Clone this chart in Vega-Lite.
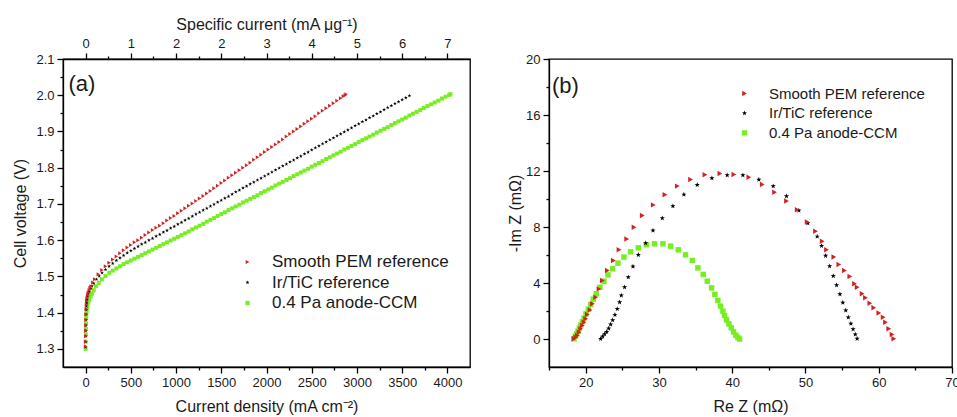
{
"$schema":"https://vega.github.io/schema/vega-lite/v6.json",
"background":"white",
"padding":{"left":12,"top":15,"right":0,"bottom":0},
"bounds":"flush",
"spacing":79,
"config":{
"font":"Liberation Sans",
"view":{"stroke":"black","strokeWidth":1.3},
"axis":{"domainColor":"black","domainWidth":1.3,"tickColor":"black","tickWidth":1.3,"labelColor":"#1a1a1a","titleColor":"#1a1a1a","labelFont":"Liberation Sans","titleFont":"Liberation Sans","labelFontSize":13,"titleFontSize":16,"titleFontWeight":"normal","grid":false,"labelFlush":false,"labelOverlap":false,"labelPadding":3},
"legend":{"labelLimit":400}
},
"datasets":{
"pol":[
{"s":"C","i":0,"v":1.300},{"s":"C","i":1,"v":1.32},{"s":"C","i":2,"v":1.34},{"s":"C","i":3,"v":1.355},{"s":"C","i":4.5,"v":1.37},{"s":"C","i":6,"v":1.385},{"s":"C","i":8,"v":1.397},{"s":"C","i":11,"v":1.405},{"s":"C","i":15,"v":1.412},{"s":"C","i":20,"v":1.418},{"s":"C","i":30,"v":1.427},{"s":"C","i":41,"v":1.436},{"s":"C","i":55,"v":1.444},{"s":"C","i":70,"v":1.452},{"s":"C","i":90,"v":1.462},{"s":"C","i":114,"v":1.473},{"s":"C","i":145,"v":1.482},{"s":"C","i":180,"v":1.492},{"s":"C","i":220,"v":1.501},{"s":"C","i":262,"v":1.510},{"s":"C","i":300,"v":1.516},{"s":"C","i":340,"v":1.522},{"s":"C","i":380,"v":1.528},{"s":"C","i":420,"v":1.534},{"s":"C","i":460,"v":1.539},{"s":"C","i":500,"v":1.544},{"s":"C","i":540,"v":1.549},{"s":"C","i":580,"v":1.554},{"s":"C","i":620,"v":1.559},{"s":"C","i":660,"v":1.564},{"s":"C","i":700,"v":1.569},{"s":"C","i":740,"v":1.574},{"s":"C","i":780,"v":1.579},{"s":"C","i":820,"v":1.584},{"s":"C","i":860,"v":1.589},{"s":"C","i":900,"v":1.594},{"s":"C","i":940,"v":1.599},{"s":"C","i":980,"v":1.604},{"s":"C","i":1020,"v":1.609},{"s":"C","i":1060,"v":1.614},{"s":"C","i":1100,"v":1.619},{"s":"C","i":1140,"v":1.624},{"s":"C","i":1180,"v":1.630},{"s":"C","i":1220,"v":1.635},{"s":"C","i":1260,"v":1.640},{"s":"C","i":1300,"v":1.645},{"s":"C","i":1340,"v":1.651},{"s":"C","i":1380,"v":1.656},{"s":"C","i":1420,"v":1.661},{"s":"C","i":1460,"v":1.667},{"s":"C","i":1500,"v":1.672},{"s":"C","i":1540,"v":1.677},{"s":"C","i":1580,"v":1.683},{"s":"C","i":1620,"v":1.688},{"s":"C","i":1660,"v":1.693},{"s":"C","i":1700,"v":1.698},{"s":"C","i":1740,"v":1.704},{"s":"C","i":1780,"v":1.709},{"s":"C","i":1820,"v":1.714},{"s":"C","i":1860,"v":1.719},{"s":"C","i":1900,"v":1.724},{"s":"C","i":1940,"v":1.730},{"s":"C","i":1980,"v":1.735},{"s":"C","i":2020,"v":1.740},{"s":"C","i":2060,"v":1.745},{"s":"C","i":2100,"v":1.751},{"s":"C","i":2140,"v":1.756},{"s":"C","i":2180,"v":1.761},{"s":"C","i":2220,"v":1.766},{"s":"C","i":2260,"v":1.771},{"s":"C","i":2300,"v":1.777},{"s":"C","i":2340,"v":1.782},{"s":"C","i":2380,"v":1.787},{"s":"C","i":2420,"v":1.792},{"s":"C","i":2460,"v":1.797},{"s":"C","i":2500,"v":1.803},{"s":"C","i":2540,"v":1.808},{"s":"C","i":2580,"v":1.813},{"s":"C","i":2620,"v":1.818},{"s":"C","i":2660,"v":1.824},{"s":"C","i":2700,"v":1.829},{"s":"C","i":2740,"v":1.834},{"s":"C","i":2780,"v":1.839},{"s":"C","i":2820,"v":1.844},{"s":"C","i":2860,"v":1.850},{"s":"C","i":2900,"v":1.855},{"s":"C","i":2940,"v":1.860},{"s":"C","i":2980,"v":1.865},{"s":"C","i":3020,"v":1.871},{"s":"C","i":3060,"v":1.876},{"s":"C","i":3100,"v":1.881},{"s":"C","i":3140,"v":1.886},{"s":"C","i":3180,"v":1.891},{"s":"C","i":3220,"v":1.897},{"s":"C","i":3260,"v":1.902},{"s":"C","i":3300,"v":1.907},{"s":"C","i":3340,"v":1.912},{"s":"C","i":3380,"v":1.918},{"s":"C","i":3420,"v":1.923},{"s":"C","i":3460,"v":1.928},{"s":"C","i":3500,"v":1.933},{"s":"C","i":3540,"v":1.938},{"s":"C","i":3580,"v":1.944},{"s":"C","i":3620,"v":1.949},{"s":"C","i":3660,"v":1.954},{"s":"C","i":3700,"v":1.959},{"s":"C","i":3740,"v":1.965},{"s":"C","i":3780,"v":1.970},{"s":"C","i":3820,"v":1.975},{"s":"C","i":3860,"v":1.980},{"s":"C","i":3900,"v":1.985},{"s":"C","i":3940,"v":1.991},{"s":"C","i":3980,"v":1.996},{"s":"C","i":4020,"v":2.001},{"s":"C","i":4034,"v":2.003},
{"s":"B","i":0,"v":1.305},{"s":"B","i":0.5,"v":1.32},{"s":"B","i":1,"v":1.335},{"s":"B","i":2,"v":1.35},{"s":"B","i":3,"v":1.365},{"s":"B","i":4,"v":1.38},{"s":"B","i":5.5,"v":1.395},{"s":"B","i":7,"v":1.408},{"s":"B","i":9,"v":1.418},{"s":"B","i":12,"v":1.427},{"s":"B","i":16,"v":1.436},{"s":"B","i":22,"v":1.445},{"s":"B","i":30,"v":1.452},{"s":"B","i":40,"v":1.458},{"s":"B","i":55,"v":1.466},{"s":"B","i":70,"v":1.473},{"s":"B","i":90,"v":1.481},{"s":"B","i":120,"v":1.492},{"s":"B","i":150,"v":1.501},{"s":"B","i":181,"v":1.510},{"s":"B","i":220,"v":1.519},{"s":"B","i":260,"v":1.528},{"s":"B","i":300,"v":1.536},{"s":"B","i":340,"v":1.544},{"s":"B","i":380,"v":1.551},{"s":"B","i":420,"v":1.558},{"s":"B","i":460,"v":1.565},{"s":"B","i":500,"v":1.571},{"s":"B","i":540,"v":1.577},{"s":"B","i":580,"v":1.583},{"s":"B","i":620,"v":1.589},{"s":"B","i":660,"v":1.594},{"s":"B","i":700,"v":1.600},{"s":"B","i":740,"v":1.605},{"s":"B","i":780,"v":1.611},{"s":"B","i":820,"v":1.616},{"s":"B","i":860,"v":1.622},{"s":"B","i":900,"v":1.627},{"s":"B","i":940,"v":1.633},{"s":"B","i":980,"v":1.638},{"s":"B","i":1020,"v":1.644},{"s":"B","i":1060,"v":1.649},{"s":"B","i":1100,"v":1.655},{"s":"B","i":1140,"v":1.660},{"s":"B","i":1180,"v":1.666},{"s":"B","i":1220,"v":1.672},{"s":"B","i":1260,"v":1.677},{"s":"B","i":1300,"v":1.683},{"s":"B","i":1340,"v":1.688},{"s":"B","i":1380,"v":1.694},{"s":"B","i":1420,"v":1.699},{"s":"B","i":1460,"v":1.705},{"s":"B","i":1500,"v":1.710},{"s":"B","i":1540,"v":1.716},{"s":"B","i":1580,"v":1.721},{"s":"B","i":1620,"v":1.727},{"s":"B","i":1660,"v":1.733},{"s":"B","i":1700,"v":1.738},{"s":"B","i":1740,"v":1.744},{"s":"B","i":1780,"v":1.749},{"s":"B","i":1820,"v":1.755},{"s":"B","i":1860,"v":1.760},{"s":"B","i":1900,"v":1.766},{"s":"B","i":1940,"v":1.771},{"s":"B","i":1980,"v":1.777},{"s":"B","i":2020,"v":1.782},{"s":"B","i":2060,"v":1.788},{"s":"B","i":2100,"v":1.794},{"s":"B","i":2140,"v":1.799},{"s":"B","i":2180,"v":1.805},{"s":"B","i":2220,"v":1.810},{"s":"B","i":2260,"v":1.816},{"s":"B","i":2300,"v":1.821},{"s":"B","i":2340,"v":1.827},{"s":"B","i":2380,"v":1.832},{"s":"B","i":2420,"v":1.838},{"s":"B","i":2460,"v":1.843},{"s":"B","i":2500,"v":1.849},{"s":"B","i":2540,"v":1.855},{"s":"B","i":2580,"v":1.860},{"s":"B","i":2620,"v":1.866},{"s":"B","i":2660,"v":1.871},{"s":"B","i":2700,"v":1.877},{"s":"B","i":2740,"v":1.882},{"s":"B","i":2780,"v":1.888},{"s":"B","i":2820,"v":1.893},{"s":"B","i":2860,"v":1.899},{"s":"B","i":2900,"v":1.904},{"s":"B","i":2940,"v":1.910},{"s":"B","i":2980,"v":1.916},{"s":"B","i":3020,"v":1.921},{"s":"B","i":3060,"v":1.927},{"s":"B","i":3100,"v":1.932},{"s":"B","i":3140,"v":1.938},{"s":"B","i":3180,"v":1.943},{"s":"B","i":3220,"v":1.949},{"s":"B","i":3260,"v":1.954},{"s":"B","i":3300,"v":1.960},{"s":"B","i":3340,"v":1.966},{"s":"B","i":3380,"v":1.971},{"s":"B","i":3420,"v":1.977},{"s":"B","i":3460,"v":1.982},{"s":"B","i":3500,"v":1.988},{"s":"B","i":3540,"v":1.993},{"s":"B","i":3580,"v":1.999},
{"s":"A","i":0,"v":1.307},{"s":"A","i":0.5,"v":1.32},{"s":"A","i":1,"v":1.335},{"s":"A","i":2,"v":1.35},{"s":"A","i":3,"v":1.365},{"s":"A","i":4,"v":1.38},{"s":"A","i":5.5,"v":1.395},{"s":"A","i":7,"v":1.41},{"s":"A","i":9,"v":1.422},{"s":"A","i":12,"v":1.432},{"s":"A","i":16,"v":1.440},{"s":"A","i":22,"v":1.448},{"s":"A","i":30,"v":1.455},{"s":"A","i":40,"v":1.462},{"s":"A","i":50,"v":1.468},{"s":"A","i":60,"v":1.473},{"s":"A","i":80,"v":1.483},{"s":"A","i":100,"v":1.492},{"s":"A","i":140,"v":1.506},{"s":"A","i":180,"v":1.518},{"s":"A","i":220,"v":1.528},{"s":"A","i":260,"v":1.538},{"s":"A","i":300,"v":1.547},{"s":"A","i":340,"v":1.555},{"s":"A","i":380,"v":1.564},{"s":"A","i":420,"v":1.572},{"s":"A","i":460,"v":1.580},{"s":"A","i":500,"v":1.587},{"s":"A","i":540,"v":1.594},{"s":"A","i":580,"v":1.600},{"s":"A","i":620,"v":1.607},{"s":"A","i":660,"v":1.614},{"s":"A","i":700,"v":1.621},{"s":"A","i":740,"v":1.628},{"s":"A","i":780,"v":1.634},{"s":"A","i":820,"v":1.640},{"s":"A","i":860,"v":1.647},{"s":"A","i":900,"v":1.654},{"s":"A","i":940,"v":1.661},{"s":"A","i":980,"v":1.667},{"s":"A","i":1020,"v":1.674},{"s":"A","i":1060,"v":1.681},{"s":"A","i":1100,"v":1.688},{"s":"A","i":1140,"v":1.695},{"s":"A","i":1180,"v":1.701},{"s":"A","i":1220,"v":1.708},{"s":"A","i":1260,"v":1.715},{"s":"A","i":1300,"v":1.722},{"s":"A","i":1340,"v":1.729},{"s":"A","i":1380,"v":1.736},{"s":"A","i":1420,"v":1.743},{"s":"A","i":1460,"v":1.750},{"s":"A","i":1500,"v":1.758},{"s":"A","i":1540,"v":1.765},{"s":"A","i":1580,"v":1.772},{"s":"A","i":1620,"v":1.779},{"s":"A","i":1660,"v":1.786},{"s":"A","i":1700,"v":1.793},{"s":"A","i":1740,"v":1.800},{"s":"A","i":1780,"v":1.807},{"s":"A","i":1820,"v":1.814},{"s":"A","i":1860,"v":1.822},{"s":"A","i":1900,"v":1.829},{"s":"A","i":1940,"v":1.836},{"s":"A","i":1980,"v":1.843},{"s":"A","i":2020,"v":1.850},{"s":"A","i":2060,"v":1.857},{"s":"A","i":2100,"v":1.864},{"s":"A","i":2140,"v":1.871},{"s":"A","i":2180,"v":1.878},{"s":"A","i":2220,"v":1.886},{"s":"A","i":2260,"v":1.893},{"s":"A","i":2300,"v":1.900},{"s":"A","i":2340,"v":1.907},{"s":"A","i":2380,"v":1.914},{"s":"A","i":2420,"v":1.921},{"s":"A","i":2460,"v":1.928},{"s":"A","i":2500,"v":1.935},{"s":"A","i":2540,"v":1.942},{"s":"A","i":2580,"v":1.950},{"s":"A","i":2620,"v":1.957},{"s":"A","i":2660,"v":1.964},{"s":"A","i":2700,"v":1.971},{"s":"A","i":2740,"v":1.978},{"s":"A","i":2780,"v":1.985},{"s":"A","i":2820,"v":1.992},{"s":"A","i":2850,"v":1.997},{"s":"A","i":2870,"v":2.000},{"s":"A","i":2880,"v":2.003}
],
"eis":[
{"s":"C","x":18.41,"y":0.01},{"s":"C","x":18.60,"y":0.20},{"s":"C","x":18.78,"y":0.37},{"s":"C","x":18.96,"y":0.56},{"s":"C","x":19.14,"y":0.77},{"s":"C","x":19.32,"y":0.99},{"s":"C","x":19.55,"y":1.23},{"s":"C","x":19.78,"y":1.49},{"s":"C","x":20.05,"y":1.80},{"s":"C","x":20.37,"y":2.13},{"s":"C","x":20.69,"y":2.46},{"s":"C","x":21.05,"y":2.85},{"s":"C","x":21.46,"y":3.23},{"s":"C","x":21.96,"y":3.70},{"s":"C","x":22.50,"y":4.13},{"s":"C","x":23.05,"y":4.58},{"s":"C","x":23.69,"y":5.01},{"s":"C","x":24.41,"y":5.42},{"s":"C","x":25.23,"y":5.85},{"s":"C","x":26.14,"y":6.23},{"s":"C","x":27.19,"y":6.51},{"s":"C","x":28.28,"y":6.73},{"s":"C","x":29.41,"y":6.80},{"s":"C","x":30.55,"y":6.80},{"s":"C","x":31.60,"y":6.63},{"s":"C","x":32.64,"y":6.37},{"s":"C","x":33.64,"y":6.01},{"s":"C","x":34.55,"y":5.61},{"s":"C","x":35.32,"y":5.08},{"s":"C","x":36.05,"y":4.61},{"s":"C","x":36.60,"y":4.13},{"s":"C","x":37.19,"y":3.65},{"s":"C","x":37.64,"y":3.18},{"s":"C","x":38.05,"y":2.75},{"s":"C","x":38.41,"y":2.35},{"s":"C","x":38.73,"y":1.99},{"s":"C","x":38.96,"y":1.68},{"s":"C","x":39.23,"y":1.37},{"s":"C","x":39.55,"y":1.08},{"s":"C","x":39.87,"y":0.80},{"s":"C","x":40.19,"y":0.51},{"s":"C","x":40.51,"y":0.27},{"s":"C","x":40.78,"y":0.11},{"s":"C","x":41.01,"y":0.0},
{"s":"B","x":22.05,"y":0.01},{"s":"B","x":22.32,"y":0.18},{"s":"B","x":22.59,"y":0.35},{"s":"B","x":22.87,"y":0.51},{"s":"B","x":23.14,"y":0.75},{"s":"B","x":23.41,"y":1.04},{"s":"B","x":23.69,"y":1.35},{"s":"B","x":24.00,"y":1.73},{"s":"B","x":24.32,"y":2.15},{"s":"B","x":24.64,"y":2.63},{"s":"B","x":24.87,"y":3.11},{"s":"B","x":25.32,"y":3.70},{"s":"B","x":25.82,"y":4.42},{"s":"B","x":26.46,"y":5.18},{"s":"B","x":27.19,"y":6.01},{"s":"B","x":28.19,"y":6.85},{"s":"B","x":29.19,"y":7.75},{"s":"B","x":30.46,"y":8.63},{"s":"B","x":31.91,"y":9.49},{"s":"B","x":33.41,"y":10.32},{"s":"B","x":35.23,"y":11.01},{"s":"B","x":37.23,"y":11.49},{"s":"B","x":39.32,"y":11.70},{"s":"B","x":41.46,"y":11.70},{"s":"B","x":43.64,"y":11.39},{"s":"B","x":45.60,"y":10.92},{"s":"B","x":47.41,"y":10.20},{"s":"B","x":49.10,"y":9.18},{"s":"B","x":50.32,"y":8.27},{"s":"B","x":51.60,"y":7.32},{"s":"B","x":52.20,"y":6.65},{"s":"B","x":52.75,"y":5.95},{"s":"B","x":53.30,"y":5.20},{"s":"B","x":53.80,"y":4.50},{"s":"B","x":54.25,"y":3.85},{"s":"B","x":54.70,"y":3.20},{"s":"B","x":55.10,"y":2.60},{"s":"B","x":55.50,"y":2.05},{"s":"B","x":55.85,"y":1.55},{"s":"B","x":56.20,"y":1.10},{"s":"B","x":56.50,"y":0.70},{"s":"B","x":56.80,"y":0.33},{"s":"B","x":57.05,"y":0.02},
{"s":"A","x":18.41,"y":0.01},{"s":"A","x":18.64,"y":0.13},{"s":"A","x":18.87,"y":0.25},{"s":"A","x":19.10,"y":0.49},{"s":"A","x":19.32,"y":0.73},{"s":"A","x":19.55,"y":0.96},{"s":"A","x":19.78,"y":1.20},{"s":"A","x":20.00,"y":1.44},{"s":"A","x":20.23,"y":1.75},{"s":"A","x":20.60,"y":2.08},{"s":"A","x":20.91,"y":2.51},{"s":"A","x":21.37,"y":2.99},{"s":"A","x":21.82,"y":3.58},{"s":"A","x":22.28,"y":4.18},{"s":"A","x":22.96,"y":4.89},{"s":"A","x":23.78,"y":5.61},{"s":"A","x":24.55,"y":6.37},{"s":"A","x":25.60,"y":7.15},{"s":"A","x":26.60,"y":7.99},{"s":"A","x":27.73,"y":8.82},{"s":"A","x":29.23,"y":9.58},{"s":"A","x":30.82,"y":10.30},{"s":"A","x":32.51,"y":10.92},{"s":"A","x":34.32,"y":11.39},{"s":"A","x":36.28,"y":11.73},{"s":"A","x":38.32,"y":11.82},{"s":"A","x":40.23,"y":11.75},{"s":"A","x":42.28,"y":11.56},{"s":"A","x":44.10,"y":11.04},{"s":"A","x":45.78,"y":10.49},{"s":"A","x":47.41,"y":9.85},{"s":"A","x":48.87,"y":9.23},{"s":"A","x":50.23,"y":8.35},{"s":"A","x":51.37,"y":7.70},{"s":"A","x":52.28,"y":6.99},{"s":"A","x":52.87,"y":6.37},{"s":"A","x":53.87,"y":5.85},{"s":"A","x":54.55,"y":5.32},{"s":"A","x":55.32,"y":4.89},{"s":"A","x":56.05,"y":4.46},{"s":"A","x":56.69,"y":3.94},{"s":"A","x":57.05,"y":3.70},{"s":"A","x":57.73,"y":3.23},{"s":"A","x":58.19,"y":2.94},{"s":"A","x":58.78,"y":2.56},{"s":"A","x":59.32,"y":2.23},{"s":"A","x":60.01,"y":1.85},{"s":"A","x":60.60,"y":1.56},{"s":"A","x":60.92,"y":1.20},{"s":"A","x":61.37,"y":0.73},{"s":"A","x":61.82,"y":0.32},{"s":"A","x":62.05,"y":0.01}
]
},
"hconcat":[
{
"width":407,"height":308,
"layer":[
{
"data":{"name":"pol"},
"mark":{"type":"point","filled":true,"size":16,"opacity":1},
"encoding":{
"x":{"field":"i","type":"quantitative","scale":{"domain":[-250,4250],"nice":false,"zero":false},
"axis":{"orient":"bottom","title":"Current density (mA cm⁻²)","format":"d","values":[0,250,500,750,1000,1250,1500,1750,2000,2250,2500,2750,3000,3250,3500,3750,4000],"labelExpr":"datum.value % 500 === 0 ? datum.label : ''","tickSize":{"condition":{"test":"datum.value % 500 !== 0","value":3},"value":6},"titlePadding":9}},
"y":{"field":"v","type":"quantitative","scale":{"domain":[1.25,2.1],"nice":false,"zero":false},
"axis":{"title":"Cell voltage (V)","values":[1.3,1.35,1.4,1.45,1.5,1.55,1.6,1.65,1.7,1.75,1.8,1.85,1.9,1.95,2.0,2.05,2.1],"labelExpr":"round(datum.value*20) % 2 === 0 ? format(datum.value, '.1f') : ''","tickSize":{"condition":{"test":"round(datum.value*20) % 2 === 1","value":3},"value":6},"titlePadding":7}},
"color":{"field":"s","type":"nominal","scale":{"domain":["A","B","C"],"range":["#d42020","#000000","#77ee22"]},
"legend":{"orient":"none","legendX":176,"legendY":194.5,"title":null,"labelFontSize":17,"labelFont":"Liberation Sans","labelColor":"#1a1a1a","symbolSize":18,"rowPadding":2.5,"labelOffset":16,"padding":0,"labelLimit":400,"labelExpr":"datum.label == 'A' ? 'Smooth PEM reference' : datum.label == 'B' ? 'Ir/TiC reference' : '0.4 Pa anode-CCM'"}},
"shape":{"field":"s","type":"nominal","scale":{"domain":["A","B","C"],"range":["triangle-right","M0,-1L0.235,-0.324L0.951,-0.309L0.38,0.124L0.588,0.809L0,0.4L-0.588,0.809L-0.38,0.124L-0.951,-0.309L-0.235,-0.324Z","square"]},
"legend":{"orient":"none","legendX":176,"legendY":194.5,"title":null,"labelFontSize":17,"labelFont":"Liberation Sans","labelColor":"#1a1a1a","symbolSize":18,"rowPadding":2.5,"labelOffset":16,"padding":0,"labelLimit":400,"labelExpr":"datum.label == 'A' ? 'Smooth PEM reference' : datum.label == 'B' ? 'Ir/TiC reference' : '0.4 Pa anode-CCM'"}}
}
},
{
"data":{"values":[{"x":-190,"y":2.03,"t":"(a)"}]},
"mark":{"type":"text","align":"left","baseline":"middle","fontSize":22,"font":"Liberation Sans","color":"#1a1a1a"},
"encoding":{
"x":{"field":"x","type":"quantitative","scale":{"domain":[-250,4250],"nice":false,"zero":false},
"axis":{"orient":"top","title":"Specific current (mA μg⁻¹)","values":[0,250,500,750,1000,1250,1500,1750,2000,2250,2500,2750,3000,3250,3500,3750,4000],"labelExpr":"datum.value % 500 === 0 ? ['0','1','2','2','3','4','5','6','7'][datum.value/500] : ''","tickSize":{"condition":{"test":"datum.value % 500 !== 0","value":3},"value":6},"titlePadding":5}},
"y":{"field":"y","type":"quantitative","scale":{"domain":[1.25,2.1],"nice":false,"zero":false},
"axis":{"title":"Cell voltage (V)","values":[1.3,1.35,1.4,1.45,1.5,1.55,1.6,1.65,1.7,1.75,1.8,1.85,1.9,1.95,2.0,2.05,2.1],"labelExpr":"round(datum.value*20) % 2 === 0 ? format(datum.value, '.1f') : ''","tickSize":{"condition":{"test":"round(datum.value*20) % 2 === 1","value":3},"value":6},"titlePadding":7}},
"text":{"field":"t"}
}
}
],
"resolve":{"axis":{"x":"independent"}}
},
{
"width":403,"height":308,
"layer":[
{
"data":{"name":"eis"},
"mark":{"type":"point","filled":true,"size":30,"opacity":1},
"encoding":{
"x":{"field":"x","type":"quantitative","scale":{"domain":[15,70],"nice":false,"zero":false},
"axis":{"title":"Re Z (mΩ)","values":[15,20,25,30,35,40,45,50,55,60,65,70],"labelExpr":"datum.value % 10 === 0 ? datum.label : ''","tickSize":{"condition":{"test":"datum.value % 10 !== 0","value":3},"value":6},"titlePadding":9}},
"y":{"field":"y","type":"quantitative","scale":{"domain":[-2,20],"nice":false,"zero":false},
"axis":{"title":"-Im Z (mΩ)","values":[0,2,4,6,8,10,12,14,16,18,20],"labelExpr":"datum.value % 4 === 0 ? datum.label : ''","tickSize":{"condition":{"test":"datum.value % 4 !== 0","value":3},"value":6},"titlePadding":2}},
"color":{"field":"s","type":"nominal","scale":{"domain":["A","B","C"],"range":["#d42020","#000000","#77ee22"]},
"legend":{"orient":"none","legendX":188,"legendY":27,"title":null,"labelFontSize":15,"labelFont":"Liberation Sans","labelColor":"#1a1a1a","symbolSize":28,"rowPadding":3.7,"labelOffset":17,"padding":0,"labelLimit":400,"labelExpr":"datum.label == 'A' ? 'Smooth PEM reference' : datum.label == 'B' ? 'Ir/TiC reference' : '0.4 Pa anode-CCM'"}},
"shape":{"field":"s","type":"nominal","scale":{"domain":["A","B","C"],"range":["triangle-right","M0,-1L0.235,-0.324L0.951,-0.309L0.38,0.124L0.588,0.809L0,0.4L-0.588,0.809L-0.38,0.124L-0.951,-0.309L-0.235,-0.324Z","square"]},
"legend":{"orient":"none","legendX":188,"legendY":27,"title":null,"labelFontSize":15,"labelFont":"Liberation Sans","labelColor":"#1a1a1a","symbolSize":28,"rowPadding":3.7,"labelOffset":17,"padding":0,"labelLimit":400,"labelExpr":"datum.label == 'A' ? 'Smooth PEM reference' : datum.label == 'B' ? 'Ir/TiC reference' : '0.4 Pa anode-CCM'"}}
}
},
{
"data":{"values":[{"x":15.4,"y":18.1,"t":"(b)"}]},
"mark":{"type":"text","align":"left","baseline":"middle","fontSize":22,"font":"Liberation Sans","color":"#1a1a1a"},
"encoding":{
"x":{"field":"x","type":"quantitative","scale":{"domain":[15,70],"nice":false,"zero":false},
"axis":{"title":"Re Z (mΩ)","values":[15,20,25,30,35,40,45,50,55,60,65,70],"labelExpr":"datum.value % 10 === 0 ? datum.label : ''","tickSize":{"condition":{"test":"datum.value % 10 !== 0","value":3},"value":6},"titlePadding":9}},
"y":{"field":"y","type":"quantitative","scale":{"domain":[-2,20],"nice":false,"zero":false},
"axis":{"title":"-Im Z (mΩ)","values":[0,2,4,6,8,10,12,14,16,18,20],"labelExpr":"datum.value % 4 === 0 ? datum.label : ''","tickSize":{"condition":{"test":"datum.value % 4 !== 0","value":3},"value":6},"titlePadding":2}},
"text":{"field":"t"}
}
}
]
}
],
"resolve":{"scale":{"color":"independent","shape":"independent"},"legend":{"color":"independent","shape":"independent"}}
}
